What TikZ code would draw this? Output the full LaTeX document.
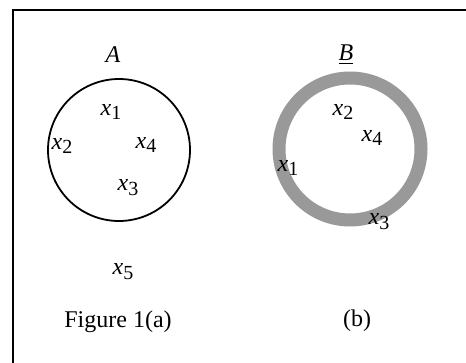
\documentclass[tikz,border=0pt]{standalone}
\usepackage{fontspec}
\setmainfont{Liberation Serif}
\newcommand{\xsub}[1]{\textit{x}\raisebox{-0.45ex}{\fontsize{10}{11}\selectfont #1}}
\begin{document}
\begin{tikzpicture}[x=0.5pt,y=-0.5pt,
  lbl/.style={inner sep=0pt,font=\fontsize{12}{14}\selectfont},
  captext/.style={inner sep=0pt,font=\fontsize{12}{14}\selectfont}]
\useasboundingbox (0,0) rectangle (466,363);
\begin{scope}
\clip (0,0) rectangle (466,363);
\draw[line width=1.1pt] (13,380) -- (13,10) -- (480,10);
\end{scope}
% set A
\node[lbl] (A) at (113,55) {\textit{A}};
\draw[line width=0.9pt] (119,150) circle[radius=71];
\node[lbl] (a1) at (111,112) {\xsub{1}};
\node[lbl] (a2) at (62,146) {\xsub{2}};
\node[lbl] (a4) at (146,145) {\xsub{4}};
\node[lbl] (a3) at (128,188) {\xsub{3}};
\node[lbl] (a5) at (123,272) {\xsub{5}};
\node[captext] (capa) at (118,322) {Figure 1(a)};
% set B
\node[lbl] (B) at (346,55) {\underline{\textit{B}}};
\draw[line width=6.5pt, color=black!40] (350,149) circle[radius=71];
\node[lbl] (b2) at (343,112) {\xsub{2}};
\node[lbl] (b4) at (372,138) {\xsub{4}};
\node[lbl] (b1) at (288,168) {\xsub{1}};
\node[lbl] (b3) at (379,222) {\xsub{3}};
\node[captext] (capb) at (357,321) {(b)};
\end{tikzpicture}
\end{document}
